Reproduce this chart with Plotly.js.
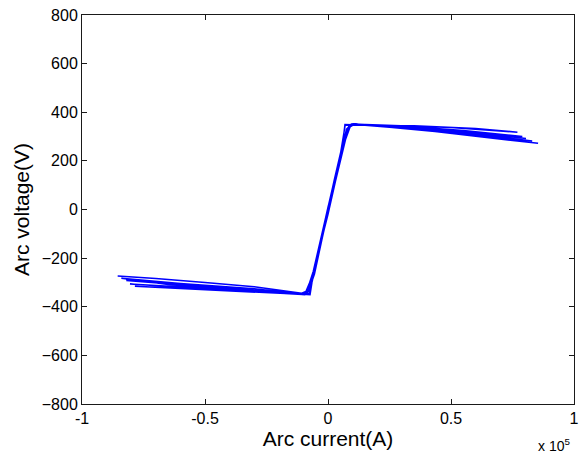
<!DOCTYPE html>
<html>
<head>
<meta charset="utf-8">
<script src="https://cdn.plot.ly/plotly-3.0.1.min.js"></script>
<style>html,body{margin:0;padding:0;background:#fff;}#chart{width:585px;height:461px;}</style>
</head>
<body>
<div id="chart"></div>
<script>
// Arc current (A) and arc voltage (V)
const arcCurrent = [
  -85500,-70000,-50000,-30000,-10700,
  -8500,-6000,-3000,0,3000,5500,6900,
  20000,40000,60000,75000,85400,
  70000,50000,30000,11000,
  9000,6500,3500,0,-3000,-5500,-7300,
  -30000,-55000,-82000,
  -60000,-35000,-10000,
  -8000,-5500,-2500,0,2500,5000,7500,10000,
  30000,55000,79000,
  60000,35000,10500,
  8500,6000,3000,0,-3000,-6000,-9000,
  -35000,-60000,-80500,
  -55000,-30000,-10500,
  -8500,-6000,-3000,0,3000,6000,8000,11000,
  35000,60000,83000,
  60000,30000,10000,
  8000,5500,2500,0,-2500,-5000,-7500,
  -30000,-55000,-78500,
  -55000,-25000,-9000,
  -7000,-4500,-2000,0,2500,5000,7000,
  35000,60000,77000,
  50000,20000,9500,
  7500,4500,2000,0,-3000,-6000,-9500,
  -40000,-65000,-84000,
  -60000,-30000,-11000,
  -9000,-6500,-3500,0,3000,6000,8500,12000,
  40000,65000,80500
];
const arcVoltage = [
  -274,-284,-300,-318,-344,
  -335,-275,-150,-15,120,235,350,
  345,325,303,286,272,
  292,315,335,352,
  340,270,150,10,-125,-235,-350,
  -336,-314,-292,
  -306,-328,-350,
  -338,-265,-125,-10,110,220,330,352,
  343,325,300,
  318,340,352,
  342,265,140,5,-130,-255,-348,
  -333,-318,-306,
  -322,-338,-350,
  -340,-270,-140,0,130,250,335,352,
  336,306,282,
  310,336,351,
  335,250,120,5,-115,-225,-345,
  -338,-326,-316,
  -328,-342,-350,
  -320,-215,-95,0,110,225,348,
  344,333,318,
  337,348,352,
  330,205,90,0,-140,-265,-350,
  -328,-308,-283,
  -304,-326,-348,
  -342,-285,-160,-20,115,240,345,350,
  333,310,292
];
const xTickVals = [-100000,-50000,0,50000,100000];
const xTickText = ['-1','-0.5','0','0.5','1'];
const yTickVals = [-800,-600,-400,-200,0,200,400,600,800];

const font = 'Liberation Sans, Arial, sans-serif';
const trace = {
  x: arcCurrent, y: arcVoltage, type: 'scatter', mode: 'lines',
  line: {color: '#0000ff', width: 1.5}, hoverinfo: 'skip'
};
const axisCommon = {
  showline: true, mirror: 'ticks', linecolor: '#1a1a1a', linewidth: 1,
  ticks: 'inside', ticklen: 5, tickcolor: '#1a1a1a', tickwidth: 1,
  showgrid: false, zeroline: false,
  tickfont: {family: font, size: 16, color: '#000'}
};
const layout = {
  width: 585, height: 461,
  margin: {l: 82, r: 11, t: 15, b: 57},
  paper_bgcolor: '#fff', plot_bgcolor: '#fff',
  showlegend: false,
  xaxis: Object.assign({}, axisCommon, {
    range: [-100000, 100000], tickmode: 'array', tickvals: xTickVals, ticktext: xTickText,
    title: {text: 'Arc current(A)', font: {family: font, size: 21, color: '#000'}, standoff: 5}
  }),
  yaxis: Object.assign({}, axisCommon, {
    range: [-800, 800], tickmode: 'array', tickvals: yTickVals,
    title: {text: 'Arc voltage(V)', font: {family: font, size: 21, color: '#000'}, standoff: 6}
  }),
  annotations: [{
    xref: 'paper', yref: 'paper', x: 0.995, y: -0.105, xanchor: 'right', yanchor: 'middle',
    text: 'x 10<sup>5</sup>', showarrow: false, font: {family: font, size: 14, color: '#000'}
  }]
};
Plotly.newPlot('chart', [trace], layout, {displayModeBar: false, staticPlot: true});
</script>
</body>
</html>
